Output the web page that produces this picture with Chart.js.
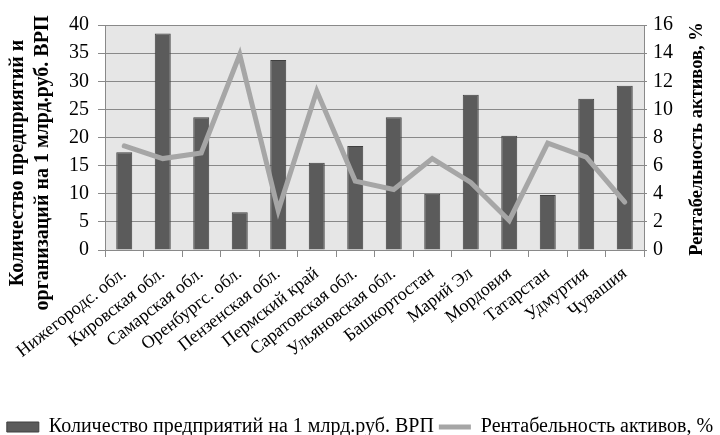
<!DOCTYPE html>
<html><head><meta charset="utf-8">
<script src="https://cdn.jsdelivr.net/npm/chart.js@4"></script>
<style>html,body{margin:0;padding:0;background:#fff}</style>
</head><body>
<canvas id="c" width="720" height="435"></canvas>
<script>
const categories = ["Нижегородс. обл.", "Кировская обл.", "Самарская обл.", "Оренбургс. обл.", "Пензенская обл.", "Пермский край", "Саратовская обл.", "Ульяновская обл.", "Башкортостан", "Марий Эл", "Мордовия", "Татарстан", "Удмуртия", "Чувашия"];
const enterprises = [17.4, 38.5, 23.6, 6.7, 33.8, 15.5, 18.5, 23.6, 10.0, 27.6, 20.3, 9.8, 26.9, 29.2];
const profitability = [7.4, 6.5, 6.9, 13.9, 2.8, 11.3, 4.9, 4.3, 6.5, 4.8, 2.1, 7.6, 6.6, 3.4];
const leftTickMax = 40, leftTickStep = 5;
const rightTickMax = 16, rightTickStep = 2;
const seriesNames = ["Количество предприятий на 1 млрд.руб. ВРП", "Рентабельность активов, %"];
const leftTitle = ["Количество предприятий и", "организаций на 1 млрд.руб. ВРП"];
const rightTitle = "Рентабельность активов, %";

const SERIF = '"Liberation Serif", "Times New Roman", serif';
const GRID = '#898989';

const bgPlugin = {
  id: 'bg',
  beforeDraw(chart) {
    const {ctx, chartArea: a} = chart;
    ctx.save();
    ctx.fillStyle = '#fff';
    ctx.fillRect(0, 0, chart.width, chart.height);
    ctx.fillStyle = '#e6e6e6';
    ctx.fillRect(a.left, a.top, a.right - a.left, a.bottom - a.top);
    ctx.restore();
  }
};
const titlePlugin = {
  id: 'titles',
  afterDraw(chart) {
    const {ctx} = chart;
    ctx.save();
    ctx.fillStyle = '#000';
    ctx.textAlign = 'center';
    ctx.textBaseline = 'middle';
    ctx.font = 'bold 20px ' + SERIF;
    const xs = [18, 43];
    leftTitle.forEach((t, i) => {
      ctx.save();
      ctx.translate(xs[i], 163);
      ctx.rotate(-Math.PI / 2);
      ctx.fillText(t, 0, 0);
      ctx.restore();
    });
    ctx.font = 'bold 18.5px ' + SERIF;
    ctx.translate(697, 139);
    ctx.rotate(-Math.PI / 2);
    ctx.fillText(rightTitle, 0, 0);
    ctx.restore();
  }
};

new Chart(document.getElementById('c'), {
  type: 'bar',
  data: {
    labels: categories,
    datasets: [
      {
        type: 'bar', label: seriesNames[0], data: enterprises, yAxisID: 'y', order: 1,
        backgroundColor: '#5b5b5b', borderColor: '#404040', borderWidth: 1,
        barPercentage: 0.415, categoryPercentage: 1, pointStyle: 'rect'
      },
      {
        type: 'line', label: seriesNames[1], data: profitability, yAxisID: 'y2', order: 0,
        borderColor: '#a6a6a6', backgroundColor: '#a6a6a6', borderWidth: 5,
        pointRadius: 0, tension: 0, pointStyle: 'line', borderCapStyle: 'round'
      }
    ]
  },
  options: {
    responsive: false,
    animation: false,
    events: [],
    layout: { padding: { top: 25, bottom: -12, left: 0, right: 0 } },
    plugins: {
      tooltip: { enabled: false },
      legend: {
        position: 'bottom',
        labels: {
          usePointStyle: true, pointStyleWidth: 32, boxHeight: 10,
          color: '#000', font: { family: SERIF, size: 20 }, padding: 5,
          sort: (a, b) => a.datasetIndex - b.datasetIndex
        }
      }
    },
    scales: {
      x: {
        offset: true,
        grid: { display: true, drawOnChartArea: false, drawTicks: true, tickLength: 7, color: GRID, offset: true },
        border: { color: GRID },
        ticks: { autoSkip: false, maxRotation: 38, minRotation: 38, padding: 6, color: '#000', font: { family: SERIF, size: 18 } },
        afterFit(s) { s.height = 162; s.paddingLeft = 0; s.paddingRight = 0; }
      },
      y: {
        position: 'left', min: 0, max: leftTickMax,
        ticks: { stepSize: leftTickStep, padding: 9, color: '#000', font: { family: SERIF, size: 20 } },
        grid: { color: GRID, tickLength: 7 },
        border: { color: GRID },
        afterFit(s) { s.width = 105; }
      },
      y2: {
        position: 'right', min: 0, max: rightTickMax,
        ticks: { stepSize: rightTickStep, padding: 6, color: '#000', font: { family: SERIF, size: 20 } },
        grid: { drawOnChartArea: false, color: GRID, tickLength: 3 },
        border: { color: GRID },
        afterFit(s) { s.width = 76; }
      }
    }
  },
  plugins: [bgPlugin, titlePlugin]
});
</script>
</body></html>
